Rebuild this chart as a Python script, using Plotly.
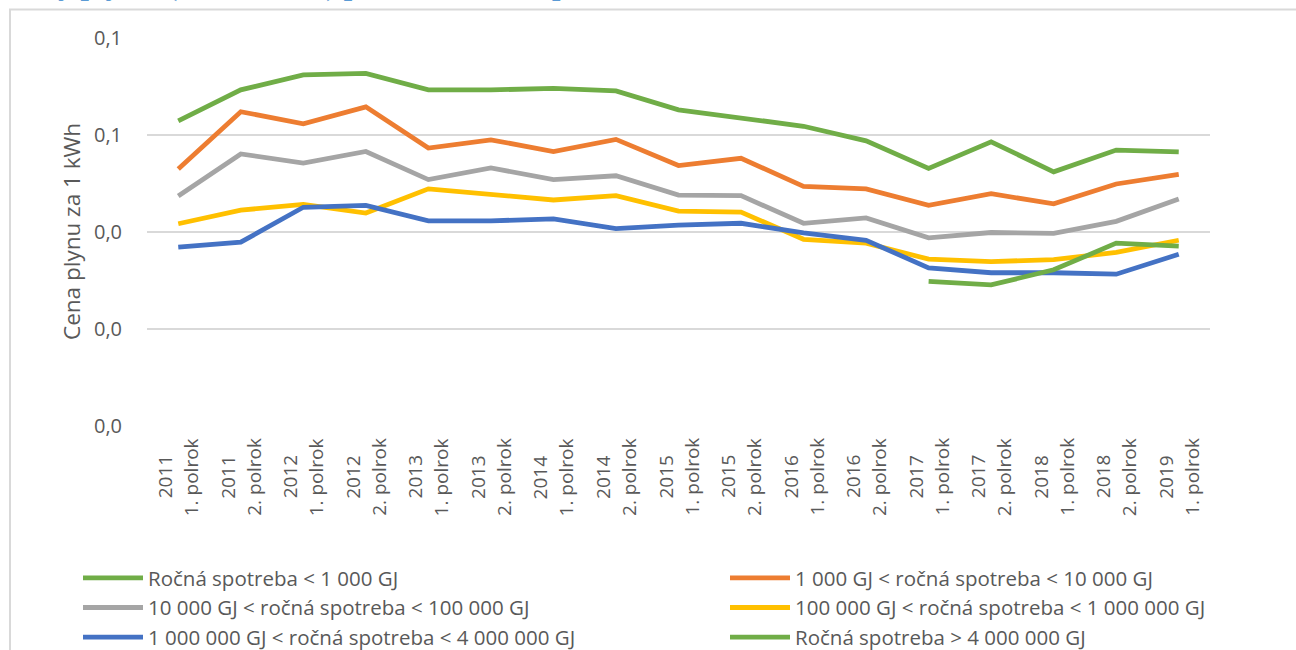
import plotly.graph_objects as go

years = ["2011", "2011", "2012", "2012", "2013", "2013", "2014", "2014", "2015",
         "2015", "2016", "2016", "2017", "2017", "2018", "2018", "2019"]
halves = ["1. polrok", "2. polrok"] * 8 + ["1. polrok"]
categories = [f"{y} {h}" for y, h in zip(years, halves)]

names = [
    "Ročná spotreba < 1 000 GJ",
    "1 000 GJ < ročná spotreba < 10 000 GJ",
    "10 000 GJ < ročná spotreba < 100 000 GJ",
    "100 000 GJ < ročná spotreba < 1 000 000 GJ",
    "1 000 000 GJ < ročná spotreba < 4 000 000 GJ",
    "Ročná spotreba > 4 000 000 GJ",
]

s_lt_1k = [0.0629, 0.0693, 0.0724, 0.0727, 0.0693, 0.0693, 0.0696, 0.0691, 0.0652,
           0.0636, 0.0618, 0.0588, 0.0531, 0.0586, 0.0524, 0.0569, 0.0565]
s_1k_10k = [0.0530, 0.0648, 0.0623, 0.0658, 0.0573, 0.0590, 0.0566, 0.0591, 0.0537,
            0.0552, 0.0494, 0.0489, 0.0455, 0.0479, 0.0458, 0.0499, 0.0519]
s_10k_100k = [0.0474, 0.0561, 0.0542, 0.0566, 0.0508, 0.0532, 0.0508, 0.0516, 0.0476,
              0.0475, 0.0418, 0.0429, 0.0388, 0.0399, 0.0397, 0.0422, 0.0468]
s_100k_1m = [0.0417, 0.0445, 0.0457, 0.0439, 0.0489, 0.0477, 0.0466, 0.0475, 0.0443,
             0.0441, 0.0385, 0.0377, 0.0344, 0.0339, 0.0343, 0.0358, 0.0383]
s_1m_4m = [0.0369, 0.0379, 0.0451, 0.0455, 0.0423, 0.0423, 0.0427, 0.0407, 0.0414,
           0.0418, 0.0398, 0.0383, 0.0326, 0.0316, 0.0316, 0.0313, 0.0354]
s_gt_4m = [None] * 12 + [0.0298, 0.0291, 0.0322, 0.0377, 0.0371]

series = [s_lt_1k, s_1k_10k, s_10k_100k, s_100k_1m, s_1m_4m, s_gt_4m]
colors = ["#70AD47", "#ED7D31", "#A5A5A5", "#FFC000", "#4472C4", "#70AD47"]

y_tickvals = [0, 0.02, 0.04, 0.06, 0.08]
y_ticktext = ["0,0", "0,0", "0,0", "0,1", "0,1"]

FONT = "Open Sans"
GREY = "#595959"

W, H = 1296, 650
ML, MR, MT, MB = 147, 86, 38, 224
PW, PH = W - ML - MR, H - MT - MB


def px_x(px):
    return (px - ML) / PW


def px_y(py):
    return (H - MB - py) / PH


fig = go.Figure()
for i, (nm, vals, col) in enumerate(zip(names, series, colors)):
    fig.add_trace(go.Scatter(
        x=categories, y=vals, name=nm, mode="lines",
        line=dict(color=col, width=4.8),
        connectgaps=False,
        legend="legend" if i % 2 == 0 else "legend2",
        hoverinfo="skip",
    ))

annotations = []
for c, yr, hf in zip(categories, years, halves):
    annotations.append(dict(
        x=c, xref="x", y=px_y(477), yref="paper",
        text=yr, textangle=-90, showarrow=False,
        xanchor="center", yanchor="middle", xshift=-13,
        font=dict(family=FONT, size=19, color=GREY),
    ))
    annotations.append(dict(
        x=c, xref="x", y=px_y(477), yref="paper",
        text=hf, textangle=-90, showarrow=False,
        xanchor="center", yanchor="middle", xshift=13,
        font=dict(family=FONT, size=19, color=GREY),
    ))

# axis title
annotations.append(dict(
    x=px_x(71), xref="paper", y=px_y(232), yref="paper",
    text="Cena plynu za 1 kWh", textangle=-90, showarrow=False,
    xanchor="center", yanchor="middle",
    font=dict(family=FONT, size=22.5, color=GREY),
))

# clipped document heading above the chart frame (only its lowest strip is visible)
annotations.append(dict(
    x=px_x(-19), xref="paper", y=px_y(4), yref="paper",
    text="<b>Zemný plyn – (veľkoodber) priemerná cena pre odberateľov</b>",
    showarrow=False, xanchor="left", yanchor="bottom",
    font=dict(family="Liberation Serif", size=30, color="#5B9BD5"),
))

shapes = [dict(
    type="rect", xref="paper", yref="paper",
    x0=px_x(10), x1=px_x(1400), y0=px_y(760), y1=px_y(9.5),
    line=dict(color="#D9D9D9", width=2), fillcolor="rgba(0,0,0,0)",
    layer="below",
)]

fig.update_layout(
    width=W, height=H,
    margin=dict(l=ML, r=MR, t=MT, b=MB, autoexpand=False),
    paper_bgcolor="white", plot_bgcolor="white",
    font=dict(family=FONT, color=GREY),
    xaxis=dict(
        type="category", range=[-0.5, len(categories) - 0.5],
        showgrid=False, showticklabels=False, showline=False, zeroline=False,
        ticks="",
    ),
    yaxis=dict(
        range=[0, 0.08], tickvals=y_tickvals, ticktext=y_ticktext,
        showgrid=True, gridcolor="#D9D9D9", gridwidth=1.5,
        zeroline=False, showline=False, ticks="",
        ticklabelstandoff=24,
        tickfont=dict(family=FONT, size=20, color=GREY),
    ),
    legend=dict(
        x=px_x(78), xanchor="left", y=px_y(558), yanchor="top",
        orientation="v", font=dict(family=FONT, size=20.5, color=GREY),
        itemwidth=60, bgcolor="rgba(0,0,0,0)", tracegroupgap=0,
    ),
    legend2=dict(
        x=px_x(725), xanchor="left", y=px_y(558), yanchor="top",
        orientation="v", font=dict(family=FONT, size=20.5, color=GREY),
        itemwidth=60, bgcolor="rgba(0,0,0,0)", tracegroupgap=0,
    ),
    showlegend=True,
    annotations=annotations,
    shapes=shapes,
)

fig.write_html(
    "out.html",
    config={"displayModeBar": False},
    post_script="document.body.style.margin='0';document.body.style.overflow='hidden';",
)
